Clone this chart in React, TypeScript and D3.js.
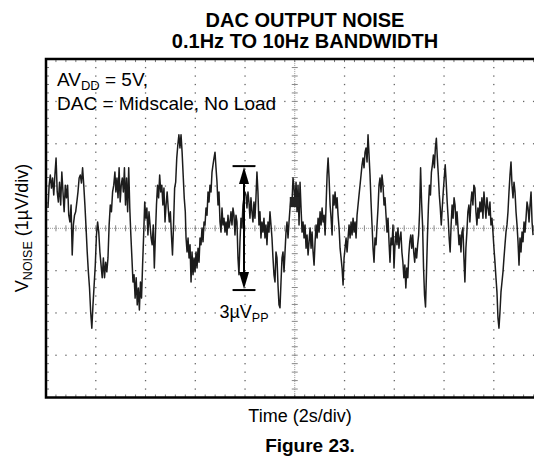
import React from "react";
import * as d3 from "d3";

const W = 534;
const H = 460;

const TIME_DOMAIN = [0, 20]; // seconds (2 s/div, 10 div)
const V_DOMAIN = [-4, 4]; // microvolts (1 µV/div, 8 div)

const titleLines = ["DAC OUTPUT NOISE", "0.1Hz TO 10Hz BANDWIDTH"];
const xLabel = "Time (2s/div)";
const figLabel = "Figure 23.";

// noise trace in seven consecutive stretches (µV)
const segStart = [0.08, 2.81, 5.63, 8.44, 11.26, 14.07, 16.88];
const segEnd = [2.77, 5.6, 8.4, 11.22, 14.03, 16.84, 19.58];

const seg1 = [0.48,1.02,1.26,0.95,1.19,0.79,1.26,1.66,0.86,0.62,1.09,0.55,1.33,0.86,0.39,1.02,0.72,1.02,0.31,0.15,0.55,-0.63,0.08,0.31,0.39,0.62,0.86,1.19,1.26,1.07,1.43,1.02,0.55,0.01,-0.56,-1.03,-1.41,-1.98,-2.36,-1.81,-1.34,-0.87,-0.16,0.15,-0.09,-0.56,-0.87,-1.17,-0.7,-1.17,-0.8,-1.03,-0.7,0.08,0.55,0.39,0.86,1.02,1.33];
const seg2 = [0.86,1.19,0.72,1.43,0.62,1.02,1.19,0.86,1.43,0.55,1.19,0.39,1.43,0.48,-0.16,-0.7,-1.27,-1.1,-1.65,-1.17,-1.81,-1.41,-1.93,-1.27,-1.65,-0.87,-0.16,0.62,0.24,0.48,-0.16,0.39,0.08,-0.23,-0.39,0.08,-0.94,-0.16,0.55,1.02,0.72,1.26,0.86,1.02,0.55,0.95,0.15,0.55,0.86,0.48,0.15,0.39,-0.16,-0.63,0.08,0.95,1.09,1.66,1.97,2.21,1.9,2.21,1.8,1.26,0.72,0.39];
const seg3 = [-0.23,-0.56,-0.23,-0.7,-0.39,-1.27,-0.56,-1.1,-0.7,-1.03,-0.56,-0.94,-0.47,-0.8,-0.23,-0.39,0.01,-0.32,0.15,0.08,0.48,0.31,0.86,0.62,1.02,0.86,1.33,1.5,1.66,1.8,1.43,1.09,0.55,0.86,0.15,-0.09,0.48,0.08,0.24,-0.09,0.15,-0.16,0.31,0.01,0.15,0.39,0.08,0.48,0.31,-0.16,0.31,0.15,-0.7,-1.1,-0.32,0.24,0.01,0.55,0.72,0.86,0.79,0.48,0.86,0.62,0.24,0.72,0.39,0.15,0.62,0.24];
const seg4 = [0.72,1.33,0.86,0.08,0.39,-0.23,0.15,-0.09,0.24,-0.23,0.08,-0.39,0.15,-0.09,0.39,0.08,-0.23,-0.7,-1.1,-1.27,-0.56,-0.7,-1.34,-1.81,-1.88,-1.27,-0.7,-0.56,-1.03,-0.56,-0.09,0.15,-0.23,0.15,0.48,0.72,0.62,1.19,0.95,0.55,1.09,0.39,1.02,0.08,1.09,0.48,-0.09,0.15,-0.23,0.08,-0.47,-0.16,-0.63,-0.32,0.01,-0.47,-0.09,-0.56,-0.87,-0.32,0.08,-0.23,0.24,-0.09,0.39,0.08,0.48,0.15,0.31,-0.16];
const seg5 = [0.55,1.26,1.66,1.19,0.55,0.24,-0.16,0.79,0.55,0.86,0.48,0.72,0.31,0.01,-0.47,-0.7,-0.94,-1.34,-0.7,-0.47,-0.23,-0.56,-0.23,0.08,-0.23,0.15,-0.16,0.24,-0.09,0.15,-0.23,0.31,0.55,0.79,1.02,1.26,1.5,1.66,1.43,1.8,1.9,1.57,2.21,1.73,1.26,0.62,0.08,-0.47,-0.8,-0.23,-0.39,0.08,0.48,1.02,1.19,0.86,1.26,1.02,0.55,0.72,0.31,-0.09,0.24,-0.32,-0.8,-0.23,-0.39,0.08,-0.94,-0.39];
const seg6 = [-0.09,-0.39,0.01,-0.47,-0.23,-0.09,-0.56,-0.8,-1.17,-0.87,-1.41,-0.94,-1.17,-0.63,-0.32,-0.16,-0.47,-0.16,-0.56,-0.8,-0.47,-0.7,-0.39,-0.16,0.39,1.43,0.62,0.08,-0.94,-1.58,-1.86,-1.03,-0.16,0.55,1.02,0.79,1.33,1.5,1.73,1.43,1.9,2.13,1.66,1.26,0.79,0.48,0.08,0.48,0.86,1.19,1.5,1.09,0.62,0.24,-0.23,-0.56,0.08,0.55,0.24,0.72,0.55,0.08,0.39,0.01,-0.39,-0.16,-0.56,-0.09,0.01,-0.7,-1.27];
const seg7 = [-0.47,-0.09,0.39,0.55,0.15,0.62,0.86,0.55,1.02,0.95,0.39,0.08,0.48,0.24,0.62,0.39,0.72,0.24,0.86,0.55,0.24,0.72,0.48,0.31,0.62,0.08,0.24,-0.09,-0.47,-0.8,-1.17,-1.51,-2.12,-2.36,-1.98,-1.51,-1.27,-1.03,-0.7,-0.39,-0.09,0.08,0.39,0.86,1.26,1.57,1.02,0.72,1.09,0.86,0.39,0.08,-0.32,-0.87,-0.23,-0.56,-0.09,-0.32,0.15,-0.09,0.24,0.62,0.48,0.15,0.55,0.86,0.15,-0.16];
const segments = [seg1, seg2, seg3, seg4, seg5, seg6, seg7];

// trigger marker and peak-to-peak annotation (data units)
const markerT = [9.8, 10.2];
const markerV = [0.5, 0.74];
const ppT = 7.96;
const ppHalfWidth = 0.46;
const ppTop = 1.47;
const ppBottom = -1.46;

const FONT = "'Liberation Sans', Arial, Helvetica, sans-serif";

export default function App() {
  const x = d3.scaleLinear().domain(TIME_DOMAIN).range([46, 543.5]);
  const y = d3.scaleLinear().domain(V_DOMAIN).range([397.5, 59.1]);

  const majorT = d3.range(2, 19.99, 2).filter((t) => Math.abs(t - 10) > 1e-6);
  const majorV = d3.range(-3, 3.01, 1).filter((v) => Math.abs(v) > 1e-6);
  const minorT = d3.range(0.4, 19.99, 0.4);
  const minorV = d3.range(-3.8, 3.81, 0.2);

  const pts: [number, number][] = [];
  segments.forEach((vals, i) => {
    vals.forEach((v, j) => {
      const t = segStart[i] + ((segEnd[i] - segStart[i]) * j) / (vals.length - 1);
      pts.push([t, v]);
    });
  });
  const line = d3
    .line<[number, number]>()
    .x((d) => x(d[0]))
    .y((d) => y(d[1]));

  const dots: JSX.Element[] = [];
  majorT.forEach((t) =>
    minorV.forEach((v, k) =>
      dots.push(<rect key={`vt${t}-${k}`} x={x(t) - 0.6} y={y(v) - 0.6} width={1.3} height={1.3} fill="#666" />)
    )
  );
  majorV.forEach((v) =>
    minorT.forEach((t, k) =>
      dots.push(<rect key={`hv${v}-${k}`} x={x(t) - 0.6} y={y(v) - 0.6} width={1.3} height={1.3} fill="#666" />)
    )
  );

  const cx = x(10);
  const cy = y(0);
  const x0 = x(0);
  const x1 = x(20);
  const y0 = y(4);
  const y1 = y(-4);

  const ppX = x(ppT);
  const ppL = x(ppT - ppHalfWidth);
  const ppR = x(ppT + ppHalfWidth);
  const ppY1 = y(ppTop);
  const ppY2 = y(ppBottom);

  return (
    <svg
      width={W}
      height={H}
      style={{ position: "absolute", left: 0, top: 0, background: "#fff" }}
      fontFamily={FONT}
    >
      <rect x={0} y={0} width={W} height={H} fill="#fff" />
      {/* title */}
      <text x={305} y={27} textAnchor="middle" fontSize={20} fontWeight="bold" fill="#000">
        {titleLines[0]}
      </text>
      <text x={305} y={48} textAnchor="middle" fontSize={20} fontWeight="bold" fill="#000">
        {titleLines[1]}
      </text>

      {/* grid dots */}
      <g>{dots}</g>

      {/* center axes */}
      <line x1={cx} x2={cx} y1={y0} y2={y1} stroke="#999" strokeWidth={1} strokeDasharray="1 1" />
      <line x1={x0} x2={x1} y1={cy} y2={cy} stroke="#999" strokeWidth={1} strokeDasharray="1 1" />
      {minorV.map((v, k) => (
        <line key={`cvt${k}`} x1={cx - 3} x2={cx + 3} y1={y(v)} y2={y(v)} stroke="#888" strokeWidth={1} />
      ))}
      {minorT.map((t, k) => (
        <line key={`cht${k}`} x1={x(t)} x2={x(t)} y1={cy - 3} y2={cy + 3} stroke="#888" strokeWidth={1} />
      ))}

      {/* frame edge ticks */}
      {minorT.map((t, k) => (
        <g key={`ft${k}`}>
          <line x1={x(t)} x2={x(t)} y1={y0} y2={y0 + 3} stroke="#777" strokeWidth={1} />
          <line x1={x(t)} x2={x(t)} y1={y1} y2={y1 - 3} stroke="#777" strokeWidth={1} />
        </g>
      ))}
      {minorV.map((v, k) => (
        <line key={`fl${k}`} x1={x0} x2={x0 + 3} y1={y(v)} y2={y(v)} stroke="#777" strokeWidth={1} />
      ))}

      {/* trace */}
      <path d={line(pts) || ""} fill="none" stroke="#1c1c1c" strokeWidth={1.5} strokeLinejoin="round" />
      <rect
        x={x(markerT[0])}
        y={y(markerV[1])}
        width={x(markerT[1]) - x(markerT[0])}
        height={y(markerV[0]) - y(markerV[1])}
        fill="#222"
      />

      {/* frame */}
      <path
        d={`M${x1},${y0} L${x0},${y0} L${x0},${y1} L${x1},${y1} Z`}
        fill="none"
        stroke="#000"
        strokeWidth={2.5}
      />

      {/* conditions */}
      <text x={57} y={86} fontSize={19} fill="#000">
        AV<tspan fontSize={13} dy={4}>DD</tspan>
        <tspan dy={-4}> = 5V,</tspan>
      </text>
      <text x={57} y={110} fontSize={19} fill="#000">
        DAC = Midscale, No Load
      </text>

      {/* peak-to-peak annotation */}
      <line x1={ppL} x2={ppR} y1={ppY1} y2={ppY1} stroke="#000" strokeWidth={2} />
      <line x1={ppL} x2={ppR} y1={ppY2} y2={ppY2} stroke="#000" strokeWidth={2} />
      <line x1={ppX} x2={ppX} y1={ppY1 + 14} y2={ppY2 - 14} stroke="#000" strokeWidth={2} />
      <path d={`M${ppX},${ppY1 + 1} L${ppX - 5},${ppY1 + 18} L${ppX + 5},${ppY1 + 18} Z`} fill="#000" />
      <path d={`M${ppX},${ppY2 - 1} L${ppX - 5},${ppY2 - 18} L${ppX + 5},${ppY2 - 18} Z`} fill="#000" />
      <text x={ppX} y={318} textAnchor="middle" fontSize={18} fill="#000">
        3µV<tspan fontSize={12.5} dy={4}>PP</tspan>
      </text>

      {/* axis labels */}
      <text transform={`translate(28,228) rotate(-90)`} textAnchor="middle" fontSize={18} fill="#000">
        V<tspan fontSize={12.5} dy={4}>NOISE</tspan>
        <tspan dy={-4}> (1µV/div)</tspan>
      </text>
      <text x={300} y={422} textAnchor="middle" fontSize={18} fill="#000">
        {xLabel}
      </text>
      <text x={310} y={452} textAnchor="middle" fontSize={19} fontWeight="bold" fill="#000">
        {figLabel}
      </text>
    </svg>
  );
}
